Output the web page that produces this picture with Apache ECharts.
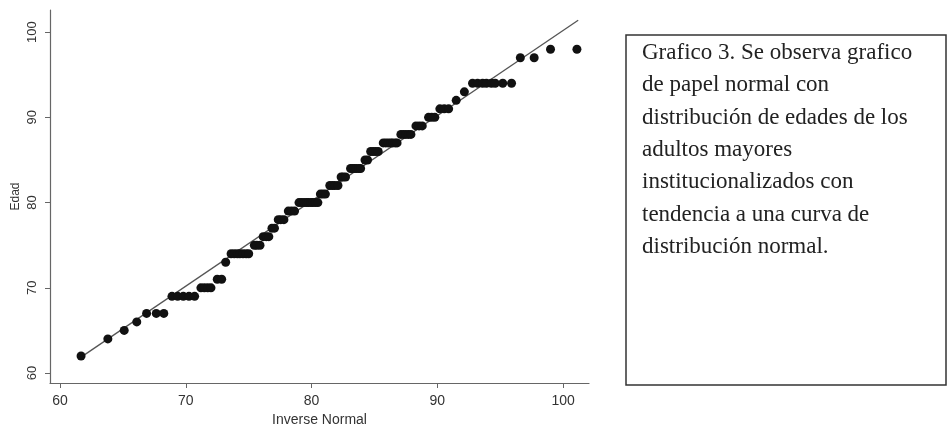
<!DOCTYPE html>
<html>
<head>
<meta charset="utf-8">
<title>Grafico 3</title>
<script src="https://cdn.jsdelivr.net/npm/echarts@6/dist/echarts.min.js"></script>
<style>
  html, body { margin: 0; padding: 0; background: #fff; }
  #chart { width: 948px; height: 424px; }
</style>
</head>
<body>
<div id="chart"></div>
<script>
// cuantiles normales (eje x) y edades observadas (eje y)
var invNormal = [
  61.67, 63.8, 65.1, 66.1,
  66.88, 67.65, 68.25,
  68.9, 69.35, 69.8, 70.25, 70.7,
  71.2, 71.47, 71.74, 72.0,
  72.5, 72.85,
  73.17,
  73.6, 73.85, 74.1, 74.3, 74.55, 74.8, 75.0,
  75.45, 75.65, 75.9,
  76.15, 76.4, 76.6,
  76.85, 77.05,
  77.35, 77.55, 77.8,
  78.15, 78.4, 78.65,
  79.0, 79.2, 79.4, 79.6, 79.75, 79.95, 80.1, 80.3, 80.5,
  80.7, 80.9, 81.1,
  81.45, 81.65, 81.85, 82.1,
  82.35, 82.5, 82.7,
  83.1, 83.25, 83.4, 83.55, 83.75, 83.9,
  84.25, 84.45,
  84.7, 84.9, 85.1, 85.3,
  85.7, 85.9, 86.1, 86.3, 86.45, 86.65, 86.8,
  87.1, 87.3, 87.5, 87.7, 87.9,
  88.3, 88.55, 88.8,
  89.3, 89.55, 89.8,
  90.2, 90.55, 90.9,
  91.5,
  92.15,
  92.8, 93.2, 93.6, 93.9, 94.3, 94.6, 95.2, 95.9,
  96.6, 97.7,
  99.0, 101.1
];
var edad = [
  62, 64, 65, 66,
  67, 67, 67,
  69, 69, 69, 69, 69,
  70, 70, 70, 70,
  71, 71,
  73,
  74, 74, 74, 74, 74, 74, 74,
  75, 75, 75,
  76, 76, 76,
  77, 77,
  78, 78, 78,
  79, 79, 79,
  80, 80, 80, 80, 80, 80, 80, 80, 80,
  81, 81, 81,
  82, 82, 82, 82,
  83, 83, 83,
  84, 84, 84, 84, 84, 84,
  85, 85,
  86, 86, 86, 86,
  87, 87, 87, 87, 87, 87, 87,
  88, 88, 88, 88, 88,
  89, 89, 89,
  90, 90, 90,
  91, 91, 91,
  92,
  93,
  94, 94, 94, 94, 94, 94, 94, 94,
  97, 97,
  98, 98
];
// recta de referencia
var lineX = [61.7, 101.2];
var lineY = [61.9, 101.4];
var tickValues = [60, 70, 80, 90, 100];

var caption = [
  'Grafico 3. Se observa grafico',
  'de papel normal con',
  'distribución de edades de los',
  'adultos mayores',
  'institucionalizados con',
  'tendencia a una curva de',
  'distribución normal.'
];

var chart = echarts.init(document.getElementById('chart'));

var axisCommon = {
  type: 'value',
  splitLine: { show: false },
  axisLine: { show: true, lineStyle: { color: '#666', width: 1.2 } },
  axisTick: { show: true, length: 5, customValues: tickValues, lineStyle: { color: '#666' } },
  axisLabel: {
    customValues: tickValues,
    color: '#333',
    fontFamily: 'Liberation Sans',
    fontSize: 13
  },
  nameTextStyle: { color: '#333', fontFamily: 'Liberation Sans', fontSize: 13 }
};

var option = {
  animation: false,
  backgroundColor: '#fff',
  grid: { left: 50, top: 10, width: 539, height: 373, outerBoundsMode: 'none', containLabel: false },
  xAxis: echarts.util.merge({
    min: 59.2,
    max: 102.06,
    name: 'Inverse Normal',
    nameLocation: 'middle',
    nameGap: 25,
    nameTextStyle: { fontSize: 14 },
    axisLabel: { margin: 11, fontSize: 14 }
  }, axisCommon),
  yAxis: echarts.util.merge({
    min: 58.83,
    max: 102.6,
    name: 'Edad',
    nameLocation: 'middle',
    nameRotate: 90,
    nameGap: 28,
    nameMoveOverlap: false,
    nameTextStyle: { fontSize: 12 },
    axisLabel: { rotate: 90, margin: 11 }
  }, axisCommon),
  series: [
    {
      type: 'line',
      data: lineX.map(function (x, i) { return [x, lineY[i]]; }),
      symbol: 'none',
      lineStyle: { color: '#555', width: 1.3 },
      z: 1
    },
    {
      type: 'scatter',
      data: invNormal.map(function (x, i) { return [x, edad[i]]; }),
      symbol: 'circle',
      symbolSize: 9,
      itemStyle: { color: '#111', opacity: 1 },
      z: 2
    }
  ],
  graphic: [
    {
      type: 'rect',
      shape: { x: 626, y: 35, width: 320, height: 350 },
      style: { fill: '#fff', stroke: '#333', lineWidth: 1.5 }
    },
    {
      type: 'text',
      left: 642,
      top: 37,
      style: {
        text: caption.join('\n'),
        fill: '#222',
        font: '23px "Liberation Serif"',
        lineHeight: 32.3
      }
    }
  ]
};

chart.setOption(option);
</script>
</body>
</html>
